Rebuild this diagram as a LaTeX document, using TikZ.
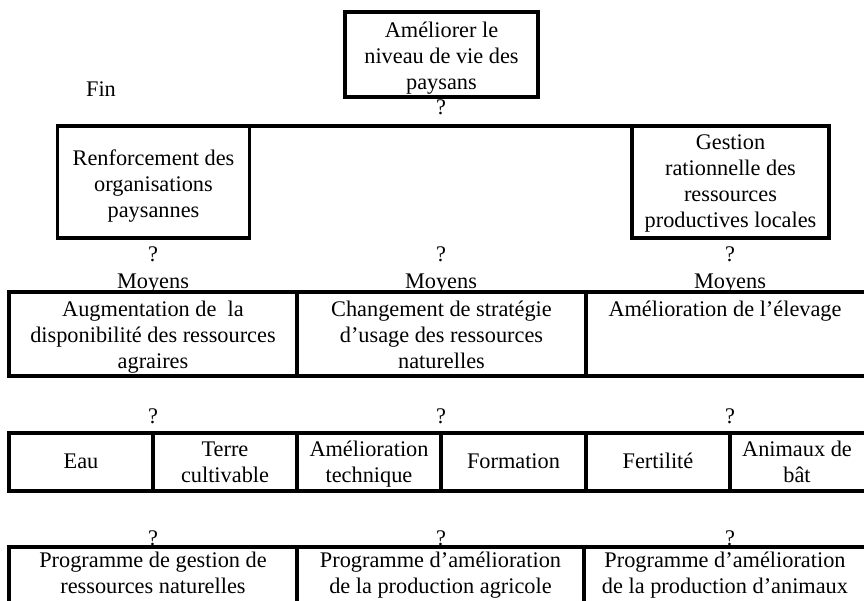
\documentclass[tikz,border=0pt]{standalone}
\usepackage{fontspec}
\setmainfont{Liberation Serif}
\begin{document}
\begin{tikzpicture}[x=1bp,y=-1bp,
  every node/.style={inner sep=0pt, outer sep=0pt},
  box/.style={draw, line width=3.3bp, rectangle},
  txt/.style={anchor=north, align=center, font=\fontsize{22.4}{26}\selectfont},
  lbl/.style={anchor=base, font=\fontsize{22.4}{26}\selectfont}]
\useasboundingbox (0,0) rectangle (864,601);
% level 1
\node[box, minimum width=193bp, minimum height=85bp] (top) at (441.5,54.5) {};
\node[txt] (ttop) at (441.5,19.8) {\strut Améliorer le\\niveau de vie des\\paysans};
\node[lbl] (fin) at (101,97) {Fin};
\node[lbl] (q0) at (441,115) {?};
% level 2
\node[box, minimum width=192bp, minimum height=112bp] (bl) at (153.5,182) {};
\node[box, minimum width=197bp, minimum height=112bp] (br) at (730.5,182) {};
\draw[line width=3.3bp] (bl.north east) -- (br.north west);
\node[txt] (tbl) at (153.5,147.8) {\strut Renforcement des\\organisations\\paysannes};
\node[txt] (tbr) at (730.5,131.8) {\strut Gestion\\rationnelle des\\ressources\\productives locales};
\node[lbl] (q1a) at (153,261) {?};
\node[lbl] (q1b) at (441,261) {?};
\node[lbl] (q1c) at (730,261) {?};
\node[lbl] (m1) at (153,288) {Moyens};
\node[lbl] (m2) at (441,288) {Moyens};
\node[lbl] (m3) at (730,288) {Moyens};
% level 3
\node[box, minimum width=288bp, minimum height=84bp] (c31) at (153,334) {};
\node[box, minimum width=289bp, minimum height=84bp] (c32) at (441.5,334) {};
\node[box, minimum width=280bp, minimum height=84bp] (c33) at (726,334) {};
\node[txt] (t31) at (153,298.8) {\strut Augmentation de\ \ la\\disponibilité des ressources\\agraires};
\node[txt] (t32) at (441.5,298.8) {\strut Changement de stratégie\\d’usage des ressources\\naturelles};
\node[txt] (t33) at (725,298.8) {\strut Amélioration de l’élevage};
\node[lbl] (q2a) at (153,423) {?};
\node[lbl] (q2b) at (441,423) {?};
\node[lbl] (q2c) at (730,423) {?};
% level 4
\node[box, minimum width=144bp, minimum height=58bp] (c41) at (81,462) {};
\node[box, minimum width=144bp, minimum height=58bp] (c42) at (225,462) {};
\node[box, minimum width=144bp, minimum height=58bp] (c43) at (369,462) {};
\node[box, minimum width=145bp, minimum height=58bp] (c44) at (513.5,462) {};
\node[box, minimum width=144bp, minimum height=58bp] (c45) at (658,462) {};
\node[box, minimum width=136bp, minimum height=58bp] (c46) at (798,462) {};
\node[lbl] (t41) at (81,468) {Eau};
\node[txt] (t42) at (225,438.8) {\strut Terre\\cultivable};
\node[txt] (t43) at (369,438.8) {\strut Amélioration\\technique};
\node[lbl] (t44) at (513.5,468) {Formation};
\node[lbl] (t45) at (658,468) {Fertilité};
\node[txt] (t46) at (797,438.8) {\strut Animaux de\\bât};
\node[lbl] (q3a) at (153,545) {?};
\node[lbl] (q3b) at (441,545) {?};
\node[lbl] (q3c) at (730,545) {?};
% level 5
\node[box, minimum width=288bp, minimum height=73bp] (c51) at (153,583.5) {};
\node[box, minimum width=287bp, minimum height=73bp] (c52) at (440.5,583.5) {};
\node[box, minimum width=282bp, minimum height=73bp] (c53) at (725,583.5) {};
\node[txt] (t51) at (153,549.8) {\strut Programme de gestion de\\ressources naturelles};
\node[txt] (t52) at (440.5,549.8) {\strut Programme d’amélioration\\de la production agricole};
\node[txt] (t53) at (725,549.8) {\strut Programme d’amélioration\\de la production d’animaux};
\end{tikzpicture}
\end{document}
